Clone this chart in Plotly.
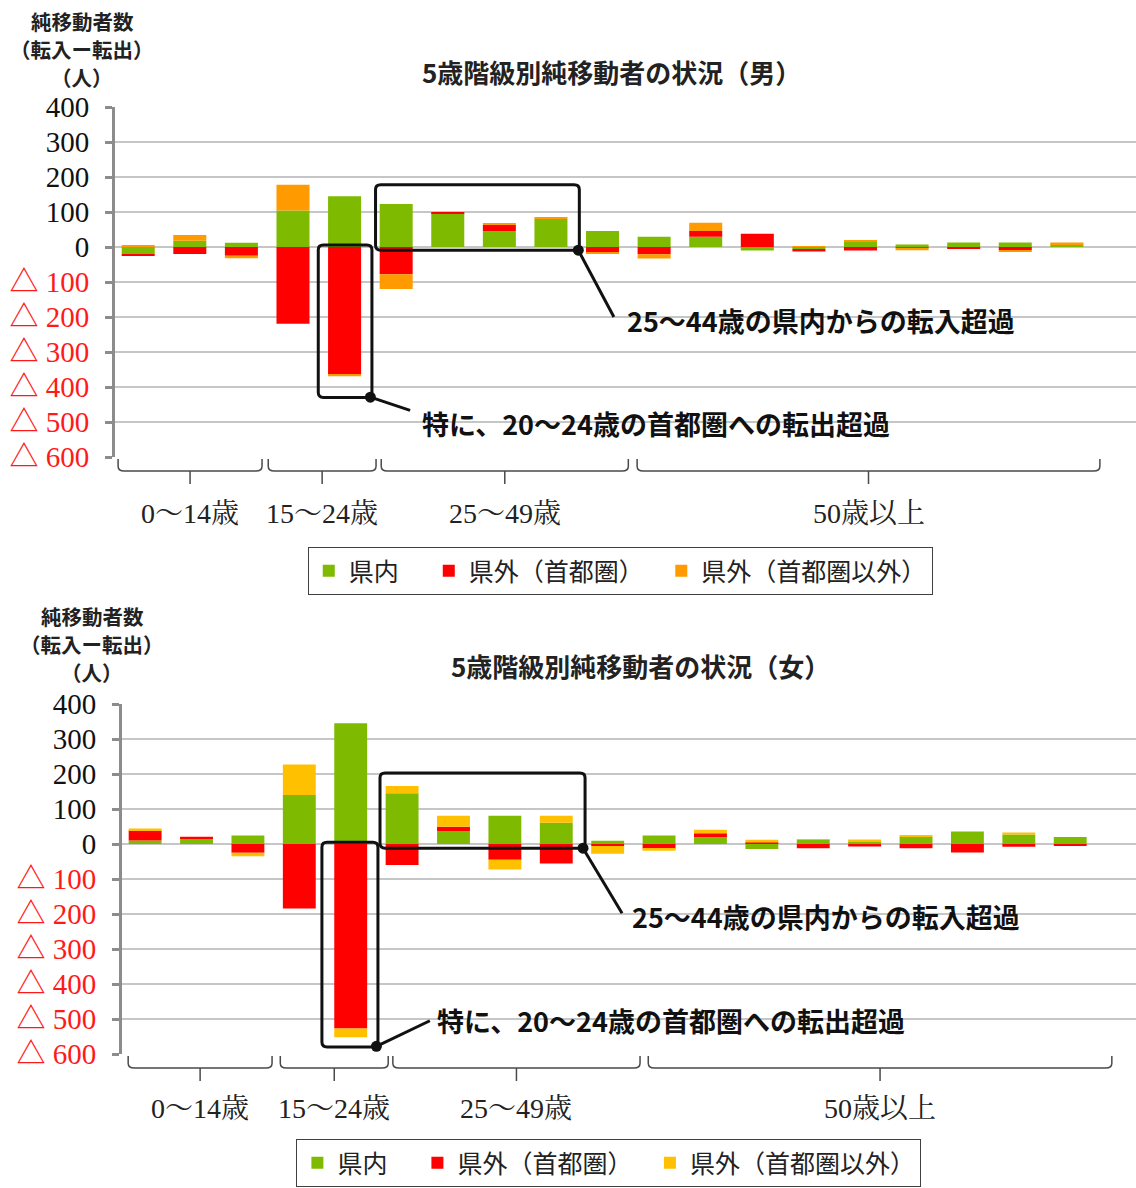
import plotly.graph_objects as go

# 5-year age classes (0-4 ... 90+)
age_classes = ["0～4歳", "5～9歳", "10～14歳", "15～19歳", "20～24歳", "25～29歳", "30～34歳",
               "35～39歳", "40～44歳", "45～49歳", "50～54歳", "55～59歳", "60～64歳", "65～69歳",
               "70～74歳", "75～79歳", "80～84歳", "85～89歳", "90歳以上"]

series_names = ["県内", "県外（首都圏）", "県外（首都圏以外）"]

# Net migration, male (persons)
male_in_pref = [-20, 18, 12, 104, 145, 123, 97, 45, 80, 46, 29, 29, -10, -6, 15, 7, 13, 13, 8]
male_capital = [-5, -20, -25, -219, -364, -78, 3, 18, 0, -14, -21, 17, 38, -7, -10, -2, -4, -9, 0]
male_other = [5, 16, -7, 74, -5, -42, 0, 5, 5, -6, -12, 23, 0, 2, 4, -7, 0, -5, 5]

# Net migration, female (persons)
female_in_pref = [10, 17, 24, 140, 345, 145, 37, 81, 61, 9, 24, 19, -14, 12, 8, 21, 36, 27, 20]
female_capital = [29, 4, -25, -184, -527, -60, 12, -45, -56, -6, -14, 12, 4, -12, -7, -12, -24, -8, -3]
female_other = [5, 0, -10, 87, -25, 21, 32, -28, 20, -22, -5, 10, 8, 2, 5, 3, 0, 6, 0]

tick_values = [400, 300, 200, 100, 0, -100, -200, -300, -400, -500, -600]
tick_labels = ["400", "300", "200", "100", "0", "△ 100", "△ 200", "△ 300", "△ 400", "△ 500", "△ 600"]

group_labels = ["0～14歳", "15～24歳", "25～49歳", "50歳以上"]

W, H = 1136, 1188
def py(p):
    return 1 - p / H

GREEN = "#7EBB00"
RED = "#FF0000"
ORANGE_M = "#FF9A00"
ORANGE_F = "#FFC000"
JP = "Noto Sans CJK JP"
SERIF = "Liberation Serif, Noto Serif CJK JP, Noto Sans CJK JP"

xs = list(range(len(age_classes)))
fig = go.Figure()

# ideographic spaces widen the gap after the first two legend entries
legend_pad = ["\u3000", "\u3000", ""]

panels = [
    dict(vals=(male_in_pref, male_capital, male_other), colors=(GREEN, RED, ORANGE_M),
         xa="x", ya="y", legend="legend"),
    dict(vals=(female_in_pref, female_capital, female_other), colors=(GREEN, RED, ORANGE_F),
         xa="x2", ya="y2", legend="legend2"),
]
for p in panels:
    for name, pad, v, c in zip(series_names, legend_pad, p["vals"], p["colors"]):
        fig.add_trace(go.Bar(x=xs, y=v, name=name + pad, marker=dict(color=c, line=dict(width=0)),
                             width=0.64, xaxis=p["xa"], yaxis=p["ya"], legend=p["legend"],
                             hovertext=age_classes))

ticktext = [t if not t.startswith("△") else f"<span style='color:#FF1A1A'>{t}</span>" for t in tick_labels]
yax = dict(range=[-600, 400], tickvals=tick_values, ticktext=ticktext, showline=True,
           linecolor="#8C8C8C", linewidth=3, ticks="outside", ticklen=7, tickwidth=3,
           tickcolor="#8C8C8C", showgrid=True, gridcolor="#C6C6C6", gridwidth=1.6,
           zeroline=False, ticklabelstandoff=10, automargin=False,
           tickfont=dict(family=SERIF, size=29, color="#111111"))
xax = dict(showticklabels=False, showgrid=False, zeroline=False, showline=False, ticks="",
           automargin=False)

legend_style = dict(orientation="h", xanchor="center", bordercolor="#404040", borderwidth=1,
                    bgcolor="white", font=dict(family=JP, size=25, color="#222222"), itemwidth=30)

fig.update_layout(
    width=W, height=H, margin=dict(l=0, r=0, t=0, b=0, autoexpand=False),
    paper_bgcolor="white", plot_bgcolor="white", barmode="relative", bargap=0.36,
    xaxis=dict(xax, domain=[115 / W, 1], range=[-0.45, 19.34], anchor="y"),
    yaxis=dict(yax, domain=[py(457), py(107)], anchor="x"),
    xaxis2=dict(xax, domain=[122 / W, 1], range=[-0.45, 19.28], anchor="y2"),
    yaxis2=dict(yax, domain=[py(1054), py(704)], anchor="x2"),
    legend=dict(legend_style, x=0.546, y=py(571), yanchor="middle"),
    legend2=dict(legend_style, x=0.536, y=py(1187), yanchor="bottom"),
    showlegend=True,
)

# ---- titles and axis captions ----
titles = [("5歳階級別純移動者の状況（男）", 612, 72), ("5歳階級別純移動者の状況（女）", 640, 665)]
for t, x, y in titles:
    fig.add_annotation(text=f"<b>{t}</b>", x=x / W, y=py(y), xref="paper", yref="paper",
                       showarrow=False, font=dict(family=JP, size=26, color="#222222"),
                       xanchor="center", yanchor="middle")
caption_lines = ["純移動者数", "（転入ー転出）", "（人）"]
for x, y0 in [(82, 21), (92, 616)]:
    for i, line in enumerate(caption_lines):
        fig.add_annotation(text=f"<b>{line}</b>", x=x / W, y=py(y0 + 28 * i),
                           xref="paper", yref="paper", showarrow=False,
                           font=dict(family=JP, size=20.5, color="#222222"),
                           xanchor="center", yanchor="middle")

# ---- age group brackets below each plot ----
def bracket_path(x0, x1, ytop, ybot, ytick):
    xc = (x0 + x1) / 2
    r = 0.12
    return (f"M {x0},{ytop} L {x0},{ybot + 0.004} Q {x0},{ybot} {x0 + r},{ybot} "
            f"L {x1 - r},{ybot} Q {x1},{ybot} {x1},{ybot + 0.004} L {x1},{ytop} "
            f"M {xc},{ybot} L {xc},{ytick}")

bracket_sets = [
    dict(xref="x", spans=[(-0.39, 2.40), (2.52, 4.61), (4.71, 9.50), (9.67, 18.64)],
         ytop=459, ybot=471, ytick=484, ylab=513),
    dict(xref="x2", spans=[(-0.33, 2.47), (2.63, 4.73), (4.82, 9.63), (9.79, 18.81)],
         ytop=1056, ybot=1068, ytick=1081, ylab=1108),
]
for b in bracket_sets:
    for (x0, x1), lab in zip(b["spans"], group_labels):
        fig.add_shape(type="path", xref=b["xref"], yref="paper",
                      path=bracket_path(x0, x1, py(b["ytop"]), py(b["ybot"]), py(b["ytick"])),
                      line=dict(color="#4A4A4A", width=1.5))
        fig.add_annotation(text=lab, x=(x0 + x1) / 2, y=py(b["ylab"]), xref=b["xref"], yref="paper",
                           showarrow=False, font=dict(family=SERIF, size=28, color="#222222"),
                           xanchor="center", yanchor="middle")

# ---- callout frames, leader lines and notes ----
def rounded_rect(x0, x1, y0, y1, rx, ry):
    return (f"M {x0 + rx},{y1} L {x1 - rx},{y1} Q {x1},{y1} {x1},{y1 - ry} "
            f"L {x1},{y0 + ry} Q {x1},{y0} {x1 - rx},{y0} L {x0 + rx},{y0} "
            f"Q {x0},{y0} {x0},{y0 + ry} L {x0},{y1 - ry} Q {x0},{y1} {x0 + rx},{y1} Z")

callouts = [
    dict(xa="x", ya="y", box=(4.60, 8.55, -9, 178), dot=(8.53, -9), end=(9.22, -200),
         text="25～44歳の県内からの転入超過", tx=9.44, ty=-209),
    dict(xa="x", ya="y", box=(3.49, 4.53, -430, 6), dot=(4.50, -429), end=(5.27, -467),
         text="特に、20～24歳の首都圏への転出超過", tx=5.47, ty=-505),
    dict(xa="x2", ya="y2", box=(4.57, 8.56, -12, 203), dot=(8.52, -12), end=(9.28, -198),
         text="25～44歳の県内からの転入超過", tx=9.44, ty=-206),
    dict(xa="x2", ya="y2", box=(3.44, 4.53, -580, 5), dot=(4.50, -578), end=(5.54, -505),
         text="特に、20～24歳の首都圏への転出超過", tx=5.64, ty=-503),
]
for c in callouts:
    x0, x1, y0, y1 = c["box"]
    fig.add_shape(type="path", xref=c["xa"], yref=c["ya"],
                  path=rounded_rect(x0, x1, y0, y1, 0.1, 14),
                  line=dict(color="#111111", width=3))
    fig.add_shape(type="line", xref=c["xa"], yref=c["ya"], x0=c["dot"][0], y0=c["dot"][1],
                  x1=c["end"][0], y1=c["end"][1], line=dict(color="#111111", width=3))
    fig.add_trace(go.Scatter(x=[c["dot"][0]], y=[c["dot"][1]], mode="markers",
                             marker=dict(color="#111111", size=11), xaxis=c["xa"], yaxis=c["ya"],
                             showlegend=False, hoverinfo="skip", cliponaxis=False))
    fig.add_annotation(text=f"<b>{c['text']}</b>", x=c["tx"], y=c["ty"], xref=c["xa"], yref=c["ya"],
                       showarrow=False, font=dict(family=JP, size=27, color="#111111"),
                       xanchor="left", yanchor="middle")

fig.write_html("out.html")
